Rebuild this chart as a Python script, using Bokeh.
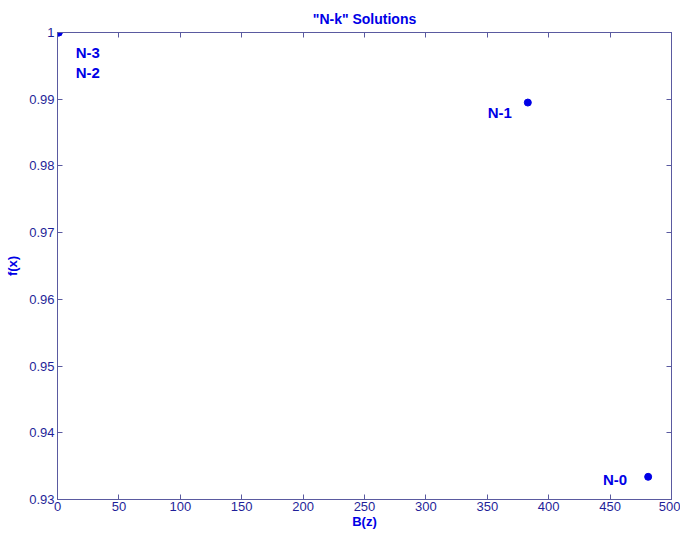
from bokeh.plotting import figure
from bokeh.models import Range1d, LinearAxis, FixedTicker, Label
from bokeh.embed import file_html
from bokeh.resources import INLINE

# ---- data ----
names = ["N-3", "N-2", "N-1", "N-0"]
bz = [1, 1, 383, 481]
fx = [1.0, 1.0, 0.9895, 0.9334]
x_ticks = [0, 50, 100, 150, 200, 250, 300, 350, 400, 450, 500]
y_ticks = [0.93, 0.94, 0.95, 0.96, 0.97, 0.98, 0.99, 1.0]
y_tick_labels = ["0.93", "0.94", "0.95", "0.96", "0.97", "0.98", "0.99", "1"]
title_text = '"N-k" Solutions'
x_label = "B(z)"
y_label = "f(x)"

# ---- styles / label placement ----
label_style = [  # (x_offset, y_offset, align)
    (17, -20, "left"),
    (17, -40, "left"),
    (-16, -10, "right"),
    (-21, -3, "right"),
]
AX = "#5a5aa0"
TXT = "#1f1f99"
BLUE = "#0000e6"
FONT = "Liberation Sans"

p = figure(width=680, height=535, output_backend="svg",
           toolbar_location=None, x_range=Range1d(0, 500),
           y_range=Range1d(0.93, 1.0),
           min_border_left=57, min_border_top=32, min_border_right=9,
           min_border_bottom=36)
p.grid.visible = False
p.outline_line_color = AX
p.background_fill_color = "white"
p.border_fill_color = "white"

p.title.text = title_text
p.title.align = "center"
p.title.text_font = FONT
p.title.text_font_style = "bold"
p.title.text_font_size = "14px"
p.title.text_color = BLUE
p.title.standoff = 12

def style_axis(ax, labels=True):
    ax.axis_line_color = AX
    ax.major_tick_line_color = AX
    ax.major_tick_in = 5
    ax.major_tick_out = 0
    ax.minor_tick_line_color = None
    ax.major_label_text_color = TXT
    ax.major_label_text_font = FONT
    ax.major_label_text_font_size = "13px"
    ax.major_label_standoff = 3 if labels else 0
    ax.axis_label_text_color = BLUE
    ax.axis_label_text_font = FONT
    ax.axis_label_text_font_style = "bold"
    ax.axis_label_text_font_size = "13px"

p.xaxis.ticker = FixedTicker(ticks=x_ticks)
p.yaxis.ticker = FixedTicker(ticks=y_ticks)
p.yaxis.major_label_overrides = {t: l for t, l in zip(y_ticks, y_tick_labels)}
style_axis(p.xaxis[0])
style_axis(p.yaxis[0])
p.xaxis.major_label_standoff = 2
p.xaxis.axis_label = x_label
p.yaxis.axis_label = y_label
p.xaxis.axis_label_standoff = 0
p.yaxis.axis_label_standoff = 6

top = LinearAxis(ticker=FixedTicker(ticks=x_ticks),
                 major_label_overrides={t: "" for t in x_ticks})
style_axis(top, labels=False)
right = LinearAxis(ticker=FixedTicker(ticks=y_ticks),
                   major_label_overrides={t: "" for t in y_ticks})
style_axis(right, labels=False)
p.add_layout(top, "above")
p.add_layout(right, "right")

p.scatter(bz, fx, size=7, color=BLUE)

for n, x, y, (dx, dy, al) in zip(names, bz, fx, label_style):
    p.add_layout(Label(x=x, y=y, text=n, x_offset=dx, y_offset=dy,
                       text_align=al, text_baseline="middle",
                       text_font=FONT, text_font_style="bold",
                       text_font_size="15px", text_color=BLUE))

open("out.html", "w").write(file_html(p, INLINE))
